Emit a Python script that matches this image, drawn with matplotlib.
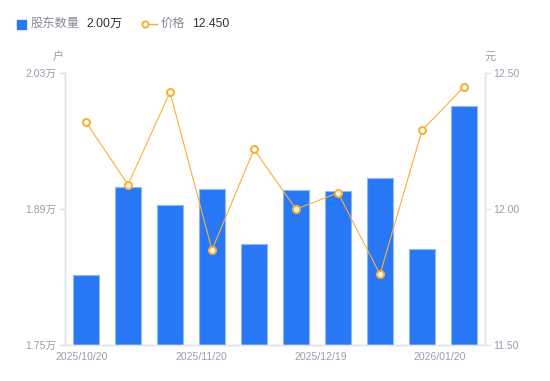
import numpy as np
import matplotlib
matplotlib.use('Agg')
import matplotlib.pyplot as plt
from matplotlib.lines import Line2D

plt.rcParams['font.family'] = ['Liberation Sans', 'Noto Sans CJK SC', 'DejaVu Sans']

# 股东数量 (万户) and 价格 (元)
holders = [1.822, 1.9125, 1.8946, 1.9105, 1.8538, 1.9094, 1.9084, 1.9224, 1.8489, 1.996]
price = [12.32, 12.09, 12.43, 11.85, 12.22, 12.00, 12.06, 11.76, 12.29, 12.45]
x_labels = ['2025/10/20', '2025/11/20', '2025/12/19', '2026/01/20']
left_ticks = [1.75, 1.89, 2.03]
right_ticks = [11.50, 12.00, 12.50]

blue = '#2878f5'
orange = '#f8b133'
grey_txt = '#9b9cad'
axis_col = '#e3e4e8'

fig = plt.figure(figsize=(5.5, 3.81), dpi=100)
ax = fig.add_axes([65 / 550, 1 - 345 / 381, 420 / 550, (345 - 73.3) / 381])
ax2 = ax.twinx()

x = np.arange(len(holders))
ax.bar(x, holders, width=0.6, color=blue, edgecolor='#8fb8fa', linewidth=0.8, zorder=2)
ax.set_xlim(-0.5, len(holders) - 0.5)
ax.set_ylim(left_ticks[0], left_ticks[-1])
ax.set_yticks(left_ticks)
ax.set_yticklabels([f'{v:.2f}万' for v in left_ticks])

ax2.plot(x, price, color=orange, linewidth=0.8, marker='o', markersize=5,
         markerfacecolor='white', markeredgecolor=orange, markeredgewidth=1.5, zorder=3)
ax2.set_ylim(right_ticks[0], right_ticks[-1])
ax2.set_yticks(right_ticks)
ax2.set_yticklabels([f'{v:.2f}' for v in right_ticks])

ax.set_xticks(np.linspace(-0.1, 8.43, len(x_labels)))
ax.set_xticklabels(x_labels)

for a in (ax, ax2):
    for s in a.spines.values():
        s.set_color(axis_col)
        s.set_linewidth(1)
    a.spines['top'].set_visible(False)
    a.tick_params(colors=axis_col, labelcolor=grey_txt, labelsize=7.6, length=4, width=1)
ax.tick_params(axis='x', length=0, pad=5)
ax.tick_params(axis='y', pad=2)
ax2.tick_params(axis='y', pad=2)

fig.text(58 / 550, 1 - 57 / 381, '户', color=grey_txt, fontsize=8, ha='center', va='center')
fig.text(490 / 550, 1 - 57 / 381, '元', color=grey_txt, fontsize=8, ha='center', va='center')

# legend row
ly = 1 - 24 / 381
fig.patches.append(plt.Rectangle((17 / 550, 1 - 29 / 381), 9 / 550, 9 / 381,
                                 transform=fig.transFigure, color=blue))
fig.text(31 / 550, ly, '股东数量', color='#888a99', fontsize=8.8, va='center')
fig.text(86 / 550, ly, f'{holders[-1]:.2f}万', color='#333333', fontsize=8.8, va='center')
fig.lines.append(Line2D([145 / 550, 157 / 550], [ly, ly], transform=fig.transFigure,
                        color=orange, linewidth=1, marker='o', markersize=4.5,
                        markevery=[0], markerfacecolor='white', markeredgecolor=orange,
                        markeredgewidth=1.4))
fig.text(161 / 550, ly, '价格', color='#888a99', fontsize=8.8, va='center')
fig.text(192 / 550, ly, f'{price[-1]:.3f}', color='#333333', fontsize=8.8, va='center')

fig.savefig('out.png', dpi=100)
